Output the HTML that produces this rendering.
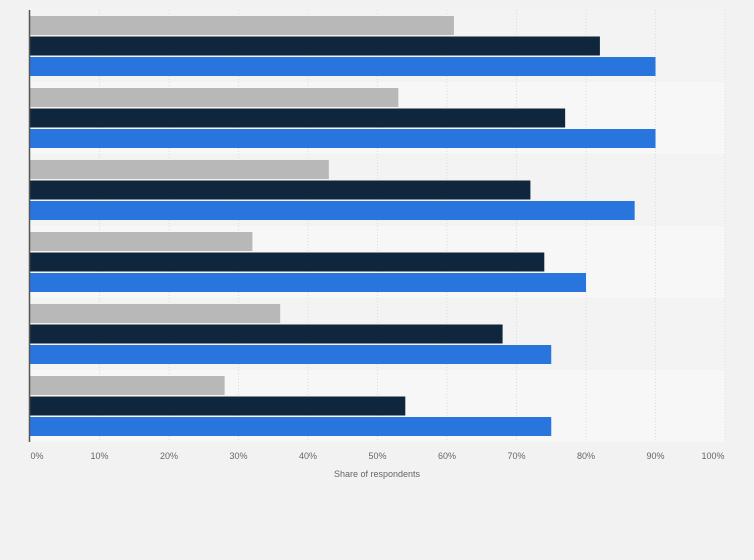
<!DOCTYPE html>
<html><head><meta charset="utf-8"><style>
body{margin:0;background:#f2f2f2;font-family:"Liberation Sans",sans-serif;}
svg{display:block}
</style></head><body>
<svg id="c" width="754" height="560"></svg>
<script>
const categories=["Group 1","Group 2","Group 3","Group 4","Group 5","Group 6"];
const seriesGray=[61,53,43,32,36,28];
const seriesNavy=[82,77,72,74,68,54];
const seriesBlue=[90,90,87,80,75,75];
const ticks=[0,10,20,30,40,50,60,70,80,90,100];
const tickLabels=["0%","10%","20%","30%","40%","50%","60%","70%","80%","90%","100%"];
const NS="http://www.w3.org/2000/svg";
const svg=document.getElementById('c');
const x0=30,x1=725,yTop=10,yBot=442;
const xs=v=>x0+(x1-x0)*v/100;
const band=(yBot-yTop)/categories.length;
function mk(t,a){const e=document.createElementNS(NS,t);for(const k in a)e.setAttribute(k,a[k]);svg.appendChild(e);return e;}
categories.forEach((c,i)=>{
 const r=mk('rect',{x:x0,y:yTop+i*band,width:x1-x0,height:band,fill:i%2?'#f7f7f7':'#f3f3f3'});
 
 
});
ticks.forEach((t,i)=>{
 const l=mk('line',{x1:xs(t),x2:xs(t),y1:yTop,y2:yBot,stroke:'#dcdcdc','stroke-dasharray':'1,2'});
 
 
 const tx=mk('text',{x:xs(t)+(i==0?7:i==10?-12:0),y:459,'font-size':9,fill:'#666','text-anchor':'middle'});
 tx.textContent=tickLabels[i];
 
 
});
const series=[[seriesGray,'#b8b8b8'],[seriesNavy,'#10263d'],[seriesBlue,'#2876dd']];
categories.forEach((c,i)=>{
 series.forEach((s,j)=>{
  const y=yTop+i*band+6+j*20.5;
  const b=mk('rect',{x:x0,y:y,width:xs(s[0][i])-x0,height:19,fill:s[1]});
  
  
 });
});
const ax=mk('line',{x1:x0-0.5,x2:x0-0.5,y1:yTop,y2:yBot,stroke:'#555','stroke-width':1.5});


const at=mk('text',{x:377,y:477,'font-size':9,fill:'#666','text-anchor':'middle'});
at.textContent='Share of respondents';


</script>
</body></html>
